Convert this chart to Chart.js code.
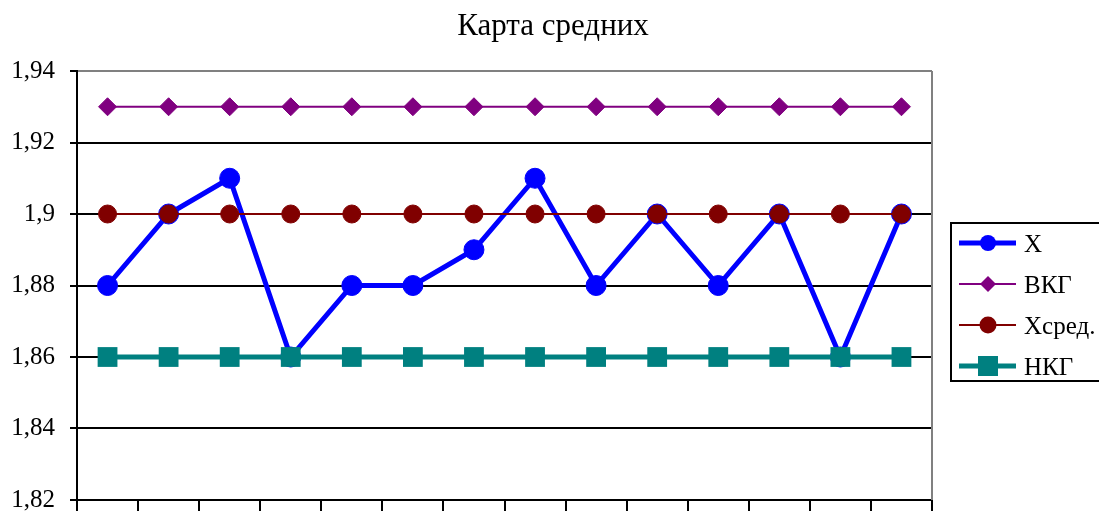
<!DOCTYPE html>
<html>
<head>
<meta charset="utf-8">
<script src="https://cdn.jsdelivr.net/npm/chart.js@4/dist/chart.umd.min.js"></script>
<style>
  html, body { margin: 0; padding: 0; background: #fff; overflow: hidden; }
  #wrap { width: 1099px; height: 540px; }
</style>
</head>
<body>
<div id="wrap"><canvas id="c" width="1099" height="540"></canvas></div>
<script>
// Samples (subgroup numbers)
const categories = ['1', '2', '3', '4', '5', '6', '7', '8', '9', '10', '11', '12', '13', '14'];

// Subgroup means
const xValues    = [1.88, 1.90, 1.91, 1.86, 1.88, 1.88, 1.89, 1.91, 1.88, 1.90, 1.88, 1.90, 1.86, 1.90];
// Upper control limit
const uclValues  = [1.93, 1.93, 1.93, 1.93, 1.93, 1.93, 1.93, 1.93, 1.93, 1.93, 1.93, 1.93, 1.93, 1.93];
// Centre line
const meanValues = [1.90, 1.90, 1.90, 1.90, 1.90, 1.90, 1.90, 1.90, 1.90, 1.90, 1.90, 1.90, 1.90, 1.90];
// Lower control limit
const lclValues  = [1.86, 1.86, 1.86, 1.86, 1.86, 1.86, 1.86, 1.86, 1.86, 1.86, 1.86, 1.86, 1.86, 1.86];

const seriesNames = ['X', 'ВКГ', 'Хсред.', 'НКГ'];
const yTickValues = [1.82, 1.84, 1.86, 1.88, 1.90, 1.92, 1.94];
const chartTitle  = 'Карта средних';

const SERIF = '"Liberation Serif", "Times New Roman", serif';

const fmtTick = v => String(Number(v.toFixed(2))).replace('.', ',');

// Title, right frame edge and legend box
const decor = {
  id: 'decor',
  beforeDatasetsDraw(chart) {
    const { ctx, chartArea: a } = chart;
    ctx.save();
    ctx.strokeStyle = '#808080';
    ctx.lineWidth = 2;
    ctx.beginPath();
    ctx.moveTo(a.right, a.top);
    ctx.lineTo(a.right, a.bottom);
    ctx.stroke();
    ctx.restore();
  },
  afterDraw(chart) {
    const { ctx } = chart;
    ctx.save();
    ctx.fillStyle = '#000';
    ctx.font = '31px ' + SERIF;
    ctx.textAlign = 'center';
    ctx.textBaseline = 'alphabetic';
    ctx.fillText(chartTitle, 553, 35);

    // legend frame
    ctx.strokeStyle = '#000';
    ctx.lineWidth = 2;
    ctx.strokeRect(951, 223, 170, 158);

    const rows = [243, 284, 325, 366];
    chart.data.datasets.forEach((ds, i) => {
      const y = rows[i];
      ctx.strokeStyle = ds.borderColor;
      ctx.lineWidth = ds.borderWidth;
      ctx.beginPath();
      ctx.moveTo(959, y);
      ctx.lineTo(1016, y);
      ctx.stroke();
      ctx.fillStyle = ds.pointBackgroundColor;
      const cx = 988;
      ctx.beginPath();
      if (ds.pointStyle === 'circle') {
        ctx.arc(cx, y, ds.legendRadius, 0, Math.PI * 2);
      } else if (ds.pointStyle === 'rectRot') {
        const r = ds.legendRadius;
        ctx.moveTo(cx, y - r); ctx.lineTo(cx + r, y); ctx.lineTo(cx, y + r); ctx.lineTo(cx - r, y); ctx.closePath();
      } else {
        const h = ds.legendRadius;
        ctx.rect(cx - h, y - h, 2 * h, 2 * h);
      }
      ctx.fill();
      ctx.fillStyle = '#000';
      ctx.font = '25px ' + SERIF;
      ctx.textAlign = 'left';
      ctx.textBaseline = 'alphabetic';
      ctx.fillText(ds.label, 1024, y + 9);
    });
    ctx.restore();
  }
};

new Chart(document.getElementById('c'), {
  type: 'line',
  data: {
    labels: categories,
    datasets: [
      {
        label: seriesNames[0], data: xValues, order: 4,
        borderColor: '#0000FF', borderWidth: 5,
        pointStyle: 'circle', pointRadius: 10, pointBorderWidth: 1,
        pointBackgroundColor: '#0000FF', pointBorderColor: '#0000FF',
        legendRadius: 8
      },
      {
        label: seriesNames[1], data: uclValues, order: 3,
        borderColor: '#800080', borderWidth: 2,
        pointStyle: 'rectRot', pointRadius: 9, pointBorderWidth: 1,
        pointBackgroundColor: '#800080', pointBorderColor: '#800080',
        legendRadius: 8
      },
      {
        label: seriesNames[2], data: meanValues, order: 2,
        borderColor: '#800000', borderWidth: 2,
        pointStyle: 'circle', pointRadius: 9, pointBorderWidth: 1,
        pointBackgroundColor: '#800000', pointBorderColor: '#800000',
        legendRadius: 8.5
      },
      {
        label: seriesNames[3], data: lclValues, order: 1,
        borderColor: '#008080', borderWidth: 5,
        pointStyle: 'rect', pointRadius: 14, pointBorderWidth: 0,
        pointBackgroundColor: '#008080', pointBorderColor: '#008080',
        legendRadius: 10
      }
    ]
  },
  options: {
    responsive: false,
    animation: false,
    devicePixelRatio: 1,
    events: [],
    layout: { padding: { top: 71, right: 167, left: 0, bottom: 0 } },
    plugins: {
      legend: { display: false },
      title: { display: false },
      tooltip: { enabled: false }
    },
    elements: { line: { tension: 0 } },
    scales: {
      x: {
        offset: true,
        afterFit: s => { s.height = 40; },
        grid: { offset: true, drawOnChartArea: false, tickLength: 14, color: '#000', lineWidth: 2 },
        border: { color: '#000', width: 2 },
        ticks: { display: false }
      },
      y: {
        min: yTickValues[0],
        max: yTickValues[yTickValues.length - 1],
        afterFit: s => { s.width = 77; },
        afterBuildTicks: s => { s.ticks = yTickValues.map(v => ({ value: v })); },
        grid: {
          color: c => (c.tick && c.tick.value >= 1.939 ? '#808080' : '#000'),
          tickColor: '#000',
          lineWidth: 2,
          tickLength: 7
        },
        border: { color: '#000', width: 2 },
        ticks: {
          padding: 15,
          color: '#000',
          font: { family: SERIF, size: 25 },
          callback: v => fmtTick(v)
        }
      }
    }
  },
  plugins: [decor]
});
</script>
</body>
</html>
